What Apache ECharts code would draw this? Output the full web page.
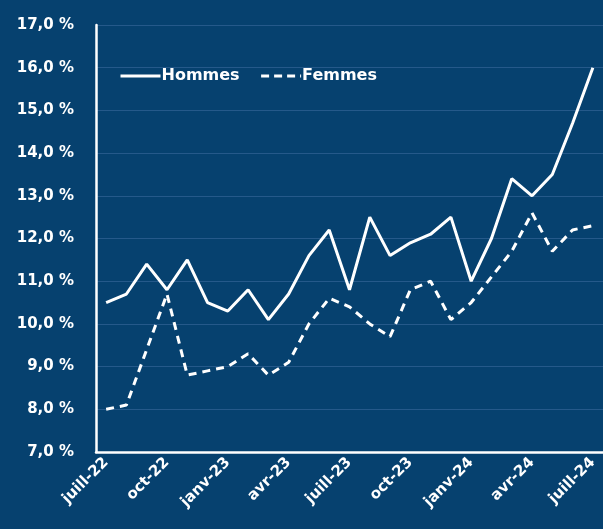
<!DOCTYPE html>
<html>
<head>
<meta charset="utf-8">
<script src="https://cdn.jsdelivr.net/npm/echarts@6/dist/echarts.min.js"></script>
<style>
  html, body { margin: 0; padding: 0; background: #06416f; }
  #chart { width: 603px; height: 529px; }
</style>
</head>
<body>
<div id="chart"></div>
<script>
var months = ['juill-22', 'août-22', 'sept-22', 'oct-22', 'nov-22', 'déc-22',
  'janv-23', 'févr-23', 'mars-23', 'avr-23', 'mai-23', 'juin-23',
  'juill-23', 'août-23', 'sept-23', 'oct-23', 'nov-23', 'déc-23',
  'janv-24', 'févr-24', 'mars-24', 'avr-24', 'mai-24', 'juin-24', 'juill-24'];

var hommes = [10.5, 10.7, 11.4, 10.8, 11.5, 10.5, 10.3, 10.8, 10.1, 10.7, 11.6, 12.2,
  10.8, 12.5, 11.6, 11.9, 12.1, 12.5, 11.0, 12.0, 13.4, 13.0, 13.5, 14.7, 16.0];

var femmes = [8.0, 8.1, 9.4, 10.7, 8.8, 8.9, 9.0, 9.3, 8.8, 9.1, 10.0, 10.6,
  10.4, 10.0, 9.7, 10.8, 11.0, 10.1, 10.5, 11.1, 11.7, 12.6, 11.7, 12.2, 12.3];

var myChart = echarts.init(document.getElementById('chart'));

var font = 'DejaVu Sans';

option = {
  backgroundColor: '#06416f',
  animation: false,
  legend: {
    left: 114,
    top: 63,
    itemWidth: 40,
    itemHeight: 16,
    itemGap: 20,
    itemStyle: { opacity: 0 },
    lineStyle: { width: 3 },
    textStyle: { color: '#fff', fontFamily: font, fontWeight: 'bold', fontSize: 16, padding: [0, 0, 0, -4] },
    data: [
      { name: 'Hommes' },
      { name: 'Femmes', lineStyle: { type: [8, 5], width: 3 } }
    ]
  },
  grid: { left: 96, right: -8, top: 25, bottom: 77 },
  xAxis: {
    type: 'category',
    data: months,
    boundaryGap: true,
    axisLine: { lineStyle: { color: '#fff', width: 2.5 } },
    axisTick: { show: false },
    axisLabel: {
      interval: 2,
      rotate: 45,
      color: '#fff',
      fontFamily: font,
      fontWeight: 'bold',
      fontSize: 15,
      margin: 8
    }
  },
  yAxis: {
    type: 'value',
    min: 7,
    max: 17,
    interval: 1,
    axisLine: { show: true, lineStyle: { color: '#fff', width: 2.5 } },
    axisTick: { show: false },
    splitLine: { lineStyle: { color: '#25598a', width: 1 } },
    axisLabel: {
      color: '#fff',
      fontFamily: font,
      fontWeight: 'bold',
      fontSize: 15,
      margin: 22,
      formatter: function (v) { return v.toFixed(1).replace('.', ',') + ' %'; }
    }
  },
  series: [
    {
      name: 'Hommes',
      type: 'line',
      data: hommes,
      symbol: 'none',
      lineStyle: { color: '#fff', width: 3 },
      itemStyle: { color: '#fff' }
    },
    {
      name: 'Femmes',
      type: 'line',
      data: femmes,
      symbol: 'none',
      lineStyle: { color: '#fff', width: 3, type: [8, 6] },
      itemStyle: { color: '#fff' }
    }
  ]
};

myChart.setOption(option);
</script>
</body>
</html>
